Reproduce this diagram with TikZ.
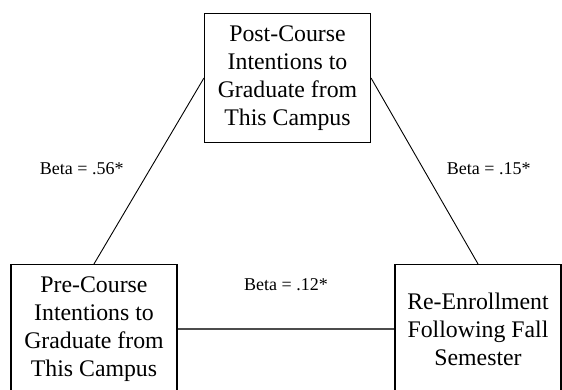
\documentclass[tikz,border=0pt]{standalone}
\usepackage{fontspec}
\setmainfont{Liberation Serif}
\usetikzlibrary{positioning}

\begin{document}
\begin{tikzpicture}[
x=1pt, y=1pt,
varbox/.style={
  draw,
  line width=1.1pt,
  inner sep=0pt,
  minimum width=166pt,
  minimum height=129pt,
  align=center,
  font=\fontsize{23.8}{28}\selectfont
  },
betalabel/.style={
  inner sep=0pt,
  font=\fontsize{18}{20}\selectfont
  },
path/.style={line width=0.9pt}
]
\useasboundingbox (0,0) rectangle (562,389);
\node[varbox] (post) at (287.5,311) {Post-Course\\Intentions to\\Graduate from\\This Campus};
\node[varbox] (pre) at (94,60) {Pre-Course\\Intentions to\\Graduate from\\This Campus};
\node[varbox] (enroll) at (478,60) {Re-Enrollment\\Following Fall\\Semester};
\path[path]
	(post.west) edge node[betalabel,left=25pt,yshift=2pt] {Beta = .56*} (pre.north)
	(post.east) edge node[betalabel,right=22pt,yshift=2pt] {Beta = .15*} (enroll.north);
\path[path,line width=1.4pt,black!70]
	(pre.east) edge node[betalabel,black,above=38pt] {Beta = .12*} (enroll.west);
\end{tikzpicture}
\end{document}
